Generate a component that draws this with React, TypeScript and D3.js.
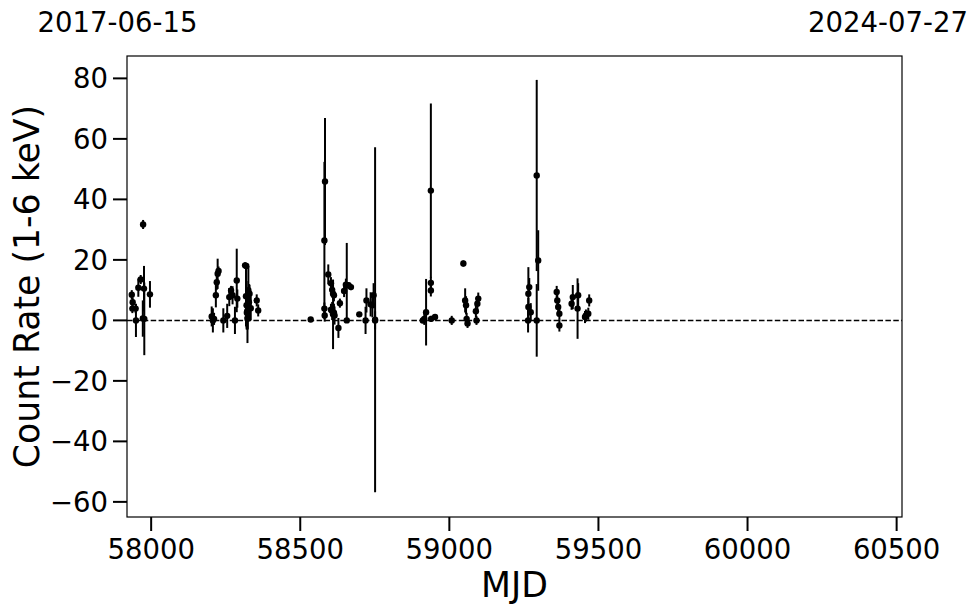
import React from "react";
import * as d3 from "d3";

const mjd = [
  57935, 57937, 57938, 57948, 57949, 57957, 57965, 57972, 57973, 57976, 57977, 57996,
  58203, 58207, 58211, 58217, 58220, 58223, 58226, 58242, 58255, 58262, 58268, 58273, 58281, 58287, 58289,
  58315, 58319, 58318, 58320, 58322, 58324, 58326, 58328, 58321, 58323, 58330, 58334, 58354, 58359,
  58535, 58581, 58583, 58581, 58582, 58594, 58603, 58607, 58610, 58613, 58603, 58607, 58613, 58615, 58610,
  58628, 58633, 58647, 58653, 58656, 58662, 58670, 58698, 58719, 58722, 58736, 58742, 58746, 58751, 58751,
  58911, 58916, 58922, 58938, 58938, 58938, 58939, 58952, 59008, 59047, 59053, 59056, 59058, 59061, 59089,
  59094, 59097, 59091,
  59265, 59268, 59265, 59264, 59273, 59293, 59298, 59293, 59360, 59362, 59365, 59369, 59369, 59410, 59414,
  59432, 59430, 59455, 59458, 59466, 59469,
];
const rate = [
  8.5, 3.9, 6, 3.9, 0, 10.8, 13.5, 0.6, 31.7, 10.5, 0.5, 8.6,
  1.3, 0, 0.5, 8.3, 12.6, 15.4, 16.3, 0, 1.5, 7.7, 9.9, 8.3, 0, 13.2, 7.2,
  18.2, 18, 8, 5, 3, 1, 10, 6, 2.5, 0.5, 8.8, 4, 6.6, 3.3,
  0.3, 26.4, 45.9, 3.9, 1.6, 15.2, 12.3, 10.1, 8.8, 8.3, 3.5, 3.1, 2.5, 1.6, 2,
  -2.5, 5.7, 9.7, 11.8, 0, 11.6, 11, 2, 0, 6.6, 5.3, 5, 8.3, 0.2, 0,
  0, 0.5, 2.7, 42.9, 12.4, 9.9, 0.5, 1.1, 0, 18.8, 6.6, 5, 0.5, -1, 3,
  5.5, 7.2, 0,
  8.8, 11, 4.4, 0, 2.7, 47.9, 19.8, 0, 9.4, 6.6, 4.4, 2.2, -1.7, 5.5, 7.7,
  8.3, 3.9, 1.1, 1.6, 2.2, 6.6,
];
const errLow = [
  1.5, 1.5, 1.5, 1.5, 5.5, 3, 1.5, 6, 1.5, 7.5, 12, 4.4,
  3.3, 4, 2, 4, 2.5, 5, 1.5, 4, 4, 3, 1.5, 3, 4.5, 10.5, 3,
  1, 1, 10, 8, 6, 4, 8, 6, 5, 8, 3, 4, 2, 2,
  0.8, 26, 21, 2, 2, 3.3, 2, 2, 2, 2, 2, 3, 3, 3, 11.5,
  3.3, 1.5, 2, 2, 0, 1, 1, 0.8, 4.5, 4, 4, 4, 4, 57, 3,
  1, 2, 11, 28.8, 2, 2, 1, 1, 1.5, 1, 4, 3, 2, 1.5, 2,
  2, 2, 1.5,
  8.8, 3, 3, 4, 3, 31.6, 10, 12, 2, 2, 3, 2, 2, 2, 4,
  4, 10, 2, 2, 2, 2,
];
const errHigh = [
  1.5, 1.5, 1.5, 1.5, 5.5, 3, 1.5, 6, 1.5, 7.5, 12, 4.4,
  3.3, 4, 2, 4, 2.5, 5, 1.5, 4, 4, 3, 1.5, 3, 4.5, 10.5, 3,
  1, 1, 10, 8, 6, 4, 8, 6, 5, 8, 3, 4, 2, 2,
  0.8, 26, 21, 2, 2, 3.3, 2, 2, 2, 2, 2, 3, 3, 3, 11.5,
  3.3, 1.5, 2, 2, 25.6, 1, 1, 0.8, 4.5, 4, 4, 4, 4, 57, 3,
  1, 2, 11, 28.8, 2, 2, 1, 1, 1.5, 1, 4, 3, 2, 1.5, 2,
  2, 2, 1.5,
  8.8, 3, 3, 4, 3, 31.6, 10, 12, 2, 2, 3, 2, 2, 2, 4,
  4, 10, 2, 2, 2, 2,
];

const xTicks = [58000, 58500, 59000, 59500, 60000, 60500];
const yTicks = [-60, -40, -20, 0, 20, 40, 60, 80];
const topLabels = ["2017-06-15", "2024-07-27"];
const xDomain = [57919, 60518];
const yDomain = [-65, 87.4];

const W = 980;
const H = 613;
const left = 127;
const right = 902;
const top = 56;
const bottom = 517;

export default function App() {
  const x = d3.scaleLinear().domain(xDomain).range([left, right]);
  const y = d3.scaleLinear().domain(yDomain).range([bottom, top]);
  const font = "DejaVu Sans, sans-serif";
  const fmt = (v: number) => (v < 0 ? "\u2212" + Math.abs(v) : String(v));
  return (
    <svg
      width={W}
      height={H}
      style={{ position: "absolute", left: 0, top: 0, background: "#fff" }}
      fontFamily={font}
    >
      <rect x={0} y={0} width={W} height={H} fill="#fff" />
      <line
        x1={left}
        x2={right}
        y1={y(0)}
        y2={y(0)}
        stroke="#000"
        strokeWidth={1.5}
        strokeDasharray="5.5,2.4"
      />
      <g>
        {mjd.map((m, i) => (
          <line
            key={"e" + i}
            x1={x(m)}
            x2={x(m)}
            y1={y(rate[i] - errLow[i])}
            y2={y(rate[i] + errHigh[i])}
            stroke="#000"
            strokeWidth={2}
          />
        ))}
        {mjd.map((m, i) => (
          <circle key={"p" + i} cx={x(m)} cy={y(rate[i])} r={3.2} fill="#000" />
        ))}
      </g>
      <rect
        x={left}
        y={top}
        width={right - left}
        height={bottom - top}
        fill="none"
        stroke="#000"
        strokeWidth={1.2}
      />
      {xTicks.map((t) => (
        <g key={"xt" + t}>
          <line x1={x(t)} x2={x(t)} y1={bottom} y2={bottom + 14} stroke="#000" strokeWidth={2} />
          <text x={x(t)} y={559} fontSize={27.5} textAnchor="middle" fill="#000">
            {t}
          </text>
        </g>
      ))}
      {yTicks.map((t) => (
        <g key={"yt" + t}>
          <line x1={left - 14} x2={left} y1={y(t)} y2={y(t)} stroke="#000" strokeWidth={2} />
          <text
            x={left - 19}
            y={y(t)}
            dy="0.36em"
            fontSize={27.5}
            textAnchor="end"
            fill="#000"
          >
            {fmt(t)}
          </text>
        </g>
      ))}
      <text x={117.5} y={32} fontSize={27.5} textAnchor="middle" fill="#000">
        {topLabels[0]}
      </text>
      <text x={888} y={32} fontSize={27.5} textAnchor="middle" fill="#000">
        {topLabels[1]}
      </text>
      <text x={(left + right) / 2} y={597} fontSize={34.7} textAnchor="middle" fill="#000">
        MJD
      </text>
      <text
        transform={`translate(39,${(top + bottom) / 2}) rotate(-90)`}
        fontSize={34.7}
        textAnchor="middle"
        fill="#000"
      >
        Count Rate (1-6 keV)
      </text>
    </svg>
  );
}
